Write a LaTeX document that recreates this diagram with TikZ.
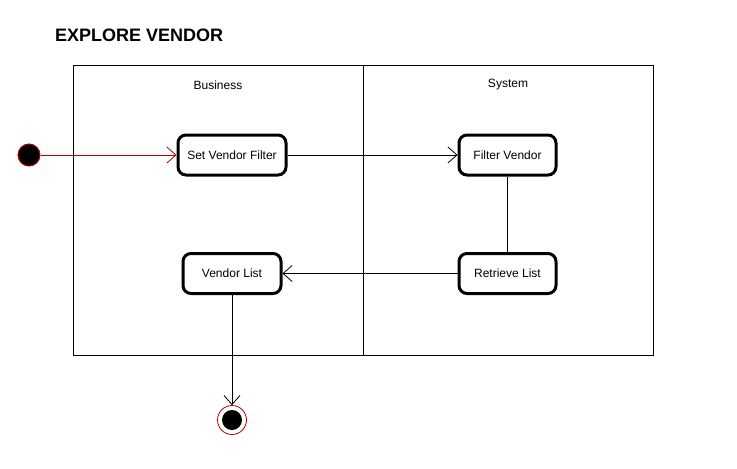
\documentclass[tikz,border=0pt]{standalone}
\usepackage{fontspec}
\setmainfont{Liberation Sans}
\usetikzlibrary{arrows.meta}
\definecolor{umlred}{HTML}{B20000}
\tikzset{
  act/.style={draw, line width=3pt, rounded corners=8pt, fill=white, minimum height=40pt, font=\fontsize{12}{14}\selectfont, inner sep=0pt},
  flow/.style={line width=0.8pt, -{Straight Barb[length=9pt,width=16pt,line width=0.8pt]}},
  lane/.style={draw, line width=0.8pt},
  lbl/.style={font=\fontsize{12}{14}\selectfont}
}
\begin{document}
\begin{tikzpicture}[x=1pt,y=-1pt]
\useasboundingbox (0,0) rectangle (737,469);
\node[anchor=west, inner sep=0pt, font=\bfseries\fontsize{18}{20}\selectfont] (title) at (55,35) {EXPLORE VENDOR};
\node[lane, minimum width=290pt, minimum height=290pt, inner sep=0pt] (bus) at (218,210) {};
\node[lane, minimum width=290pt, minimum height=290pt, inner sep=0pt] (sys) at (508,210) {};
\node[lbl] (busl) at (218,85) {Business};
\node[lbl] (sysl) at (508,85) {System};
\node[circle, fill=black, draw=umlred, line width=1pt, minimum size=22pt, inner sep=0pt] (start) at (29,155) {};
\node[act, minimum width=108pt] (svf) at (232,155) {Set Vendor Filter};
\node[act, minimum width=97pt] (fv) at (507.5,155) {Filter Vendor};
\node[act, minimum width=97pt] (rl) at (507.5,273.5) {Retrieve List};
\node[act, minimum width=98pt] (vl) at (232,273.5) {Vendor List};
\node[circle, draw=umlred, fill=white, line width=0.8pt, minimum size=29pt, inner sep=0pt] (end) at (232,420) {};
\node[circle, fill=black, minimum size=20pt, inner sep=0pt] (endin) at (232,420) {};
\draw[flow, draw=umlred] (start) -- (svf);
\draw[flow] (svf) -- (fv);
\draw[line width=0.8pt] (fv) -- (rl);
\draw[flow] (rl) -- (vl);
\draw[flow] (vl) -- (end);
\end{tikzpicture}
\end{document}
